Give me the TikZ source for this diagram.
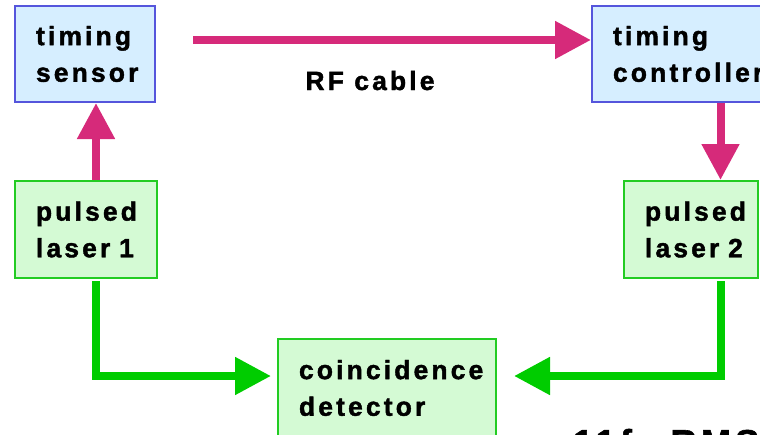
\documentclass[tikz,border=0pt]{standalone}
\usepackage{fontspec}
\setmainfont{Liberation Sans}[LetterSpace=12, BoldFeatures={FakeBold=1.6}]
\usetikzlibrary{arrows.meta}

\definecolor{boxblue}{RGB}{214,238,255}
\definecolor{edgeblue}{RGB}{85,85,220}
\definecolor{boxgreen}{RGB}{212,250,212}
\definecolor{edgegreen}{RGB}{34,204,34}
\definecolor{linkgreen}{RGB}{0,204,0}
\definecolor{rfpink}{RGB}{214,42,122}

\begin{document}
\begin{tikzpicture}[x=0.75pt, y=-0.75pt,
    box/.style={draw, line width=1.5pt, align=left, inner xsep=15.75pt, inner ysep=0pt,
        font=\bfseries\fontsize{19.8pt}{27.5pt}\selectfont},
    bluebox/.style={box, fill=boxblue, draw=edgeblue},
    greenbox/.style={box, fill=boxgreen, draw=edgegreen},
    pinkarrow/.style={draw=rfpink, line width=6pt, -{Triangle[length=27pt,width=27pt]}},
    greenarrow/.style={draw=linkgreen, line width=6pt, line join=miter,
        -{Triangle[length=27pt,width=27pt]}}]
    \useasboundingbox (0,0) rectangle (760,435);
    \clip (0,0) rectangle (760,435);

    % Boxes
    \node [bluebox, text width=73.5pt, minimum height=72pt] (sensor) at (85,54) {timing\\sensor};
    \node [bluebox, text width=117pt, minimum height=72pt] (controller) at (691,54) {timing\\controller};
    \node [greenbox, text width=75pt, minimum height=72.75pt] (laser1) at (86,229.5) {pulsed\\laser~1};
    \node [greenbox, text width=69pt, minimum height=72.75pt] (laser2) at (691,229.5) {pulsed\\laser~2};
    \node [greenbox, text width=132pt, minimum height=73.5pt] (coinc) at (387,388) {coincidence\\detector};

    % RF link
    \draw [pinkarrow, shorten <=27.75pt] ([yshift=10.5pt]sensor.east) -- ([yshift=10.5pt]controller.west);
    \node [anchor=base, font=\bfseries\fontsize{19.8pt}{22pt}\selectfont] (rflabel) at (370,90) {RF cable};
    \draw [pinkarrow] ([xshift=7.5pt]laser1.north) -- ([xshift=8.25pt]sensor.south);
    \draw [pinkarrow] ([xshift=22.125pt]controller.south) -- ([xshift=22.125pt]laser2.north);

    % Pulses
    \draw [greenarrow, shorten <=1.5pt, shorten >=4.5pt] ([xshift=7.5pt]laser1.south) |- ([yshift=9pt]coinc.west);
    \draw [greenarrow, shorten <=1.5pt, shorten >=12.75pt] ([xshift=22.125pt]laser2.south) |- ([yshift=9pt]coinc.east);

    \node [anchor=base west, inner sep=0pt, font=\bfseries\fontsize{27pt}{32pt}\selectfont] (rms) at (573,455) {11fs RMS};
\end{tikzpicture}
\end{document}
